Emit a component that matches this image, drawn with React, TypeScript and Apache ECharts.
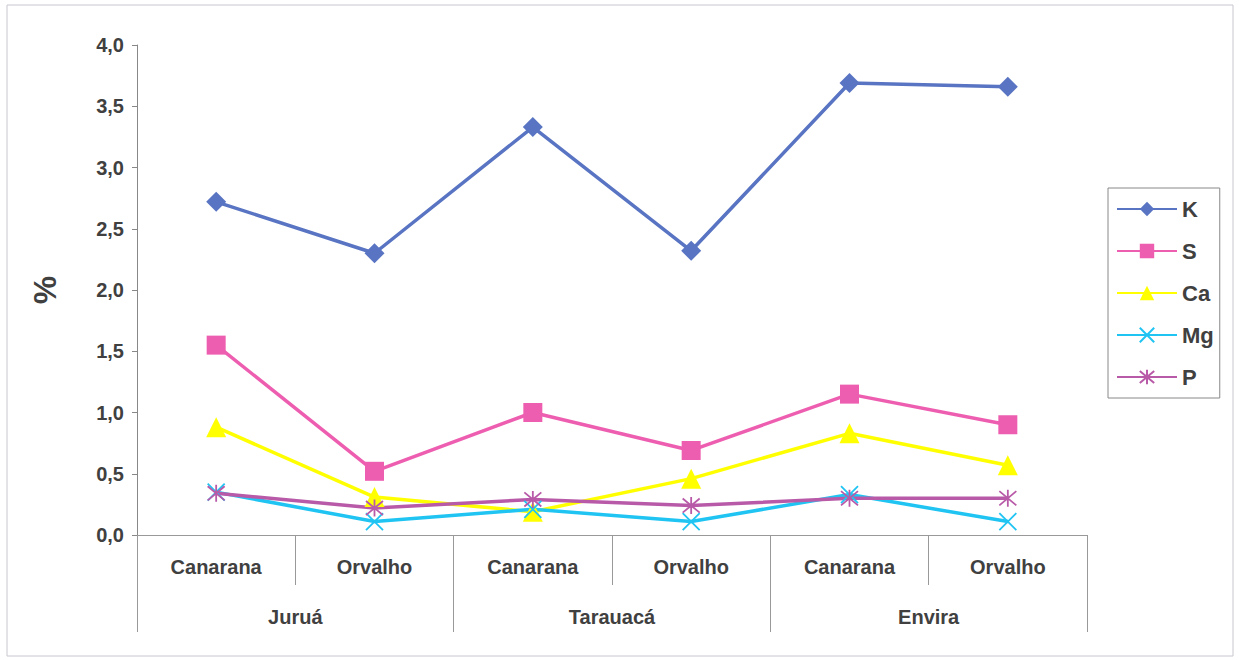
import React, { useEffect, useRef } from "react";
import * as echarts from "echarts";

const categories = ["Canarana", "Orvalho", "Canarana", "Orvalho", "Canarana", "Orvalho"];
const groups = ["Juruá", "Tarauacá", "Envira"];
const yTicks = [0, 0.5, 1, 1.5, 2, 2.5, 3, 3.5, 4];

const kValues = [2.72, 2.3, 3.33, 2.32, 3.69, 3.66];
const sValues = [1.55, 0.52, 1.0, 0.69, 1.15, 0.9];
const caValues = [0.88, 0.31, 0.19, 0.46, 0.83, 0.57];
const mgValues = [0.35, 0.11, 0.21, 0.11, 0.33, 0.11];
const pValues = [0.34, 0.22, 0.29, 0.24, 0.3, 0.3];

const FONT = "'Liberation Sans', Arial, sans-serif";
const TEXT = "#404040";

export default function App() {
  const ref = useRef<HTMLDivElement>(null);
  useEffect(() => {
    if (!ref.current) return;
    const chart = echarts.init(ref.current, undefined, { renderer: "svg" });
    const cross = "path://M0 0L10 10M10 0L0 10";
    const star = "path://M0 0L10 10M10 0L0 10M5 -1L5 11";
    const mk = (name: string, data: number[], color: string, symbol: string, size: number, stroke?: boolean) => ({
      name,
      type: "line",
      data,
      symbol,
      symbolSize: size,
      lineStyle: { color, width: 3.5 },
      itemStyle: stroke
        ? { color: "rgba(0,0,0,0)", borderColor: color, borderWidth: 1.8 }
        : { color, borderColor: color, borderWidth: 0 },
      z: 2,
    });
    chart.setOption({
      animation: false,
      backgroundColor: "#fff",
      textStyle: { fontFamily: FONT },
      graphic: [
        {
          type: "rect",
          shape: { x: 7, y: 5, width: 1226, height: 651 },
          style: { fill: "none", stroke: "#c8c8d0", lineWidth: 1 },
          silent: true,
        },
      ],
      grid: { left: 137, right: 152, top: 45, bottom: 125 },
      legend: {
        orient: "vertical",
        left: 1108,
        top: 188,
        width: 118,
        padding: [10, 6, 10, 8],
        itemWidth: 60,
        itemHeight: 18,
        itemGap: 20,
        borderColor: "#888",
        borderWidth: 1,
        textStyle: { fontFamily: FONT, fontSize: 22, fontWeight: "bold", color: TEXT, lineHeight: 22 },
        data: ["K", "S", "Ca", "Mg", "P"],
      },
      xAxis: [
        {
          type: "category",
          data: categories,
          boundaryGap: true,
          position: "bottom",
          axisLine: { show: true, lineStyle: { color: "#999", width: 1 } },
          axisTick: { show: true, interval: 0, length: 50, lineStyle: { color: "#999" } },
          axisLabel: { interval: 0, margin: 22, fontSize: 20, fontWeight: "bold", color: TEXT, fontFamily: FONT },
        },
        {
          type: "category",
          data: groups,
          boundaryGap: true,
          position: "bottom",
          axisLine: { show: false },
          axisTick: { show: true, interval: 0, length: 97, lineStyle: { color: "#999" } },
          axisLabel: { interval: 0, margin: 72, fontSize: 20, fontWeight: "bold", color: TEXT, fontFamily: FONT },
        },
      ],
      yAxis: {
        type: "value",
        min: yTicks[0],
        max: yTicks[yTicks.length - 1],
        interval: 0.5,
        name: "%",
        nameLocation: "middle",
        nameRotate: 90,
        nameGap: 76,
        nameTextStyle: { fontSize: 32, fontWeight: "bold", color: TEXT, fontFamily: FONT },
        axisLine: { show: true, lineStyle: { color: "#888", width: 1 } },
        axisTick: { show: true, length: 5, lineStyle: { color: "#888" } },
        splitLine: { show: false },
        axisLabel: {
          margin: 13,
          fontSize: 20,
          fontWeight: "bold",
          color: TEXT,
          fontFamily: FONT,
          formatter: (v: number) => v.toFixed(1).replace(".", ","),
        },
      },
      series: [
        mk("K", kValues, "#5874C2", "diamond", 20),
        mk("S", sValues, "#EE5EB0", "rect", 19),
        mk("Ca", caValues, "#FFFF00", "triangle", 20),
        mk("Mg", mgValues, "#20C4F2", cross, 17, true),
        mk("P", pValues, "#B85AA8", star, 17, true),
      ],
    });
    return () => chart.dispose();
  }, []);
  return (
    <div
      ref={ref}
      style={{ position: "absolute", left: 0, top: 0, width: 1239, height: 660 }}
    />
  );
}
